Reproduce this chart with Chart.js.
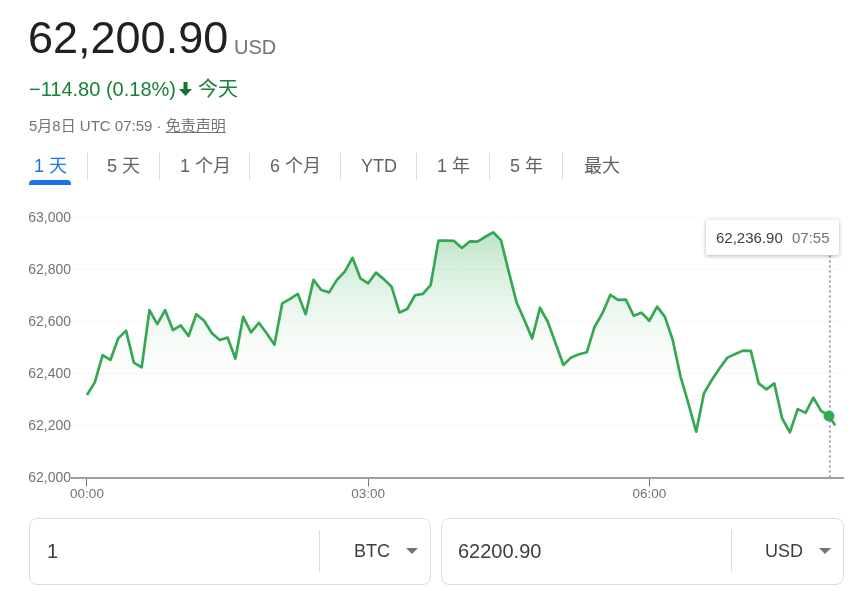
<!DOCTYPE html>
<html><head><meta charset="utf-8">
<script src="https://cdn.jsdelivr.net/npm/chart.js@4/dist/chart.umd.min.js"></script>
<style>
html,body{margin:0;padding:0;background:#fff;width:865px;height:591px;overflow:hidden}
body{font-family:"Liberation Sans","Noto Sans CJK SC",sans-serif;position:relative}
#c{position:absolute;left:0;top:0}
.t{position:absolute;white-space:nowrap;line-height:1}
.sep{position:absolute;top:153px;height:27px;width:1px;background:#dadce0}
.tab{position:absolute;top:157px;font-size:18px;color:#5f6368;white-space:nowrap;line-height:1}
.box{position:absolute;top:518px;height:65px;border:1px solid #dadce0;border-radius:8px;box-sizing:content-box}
.div{position:absolute;top:530px;height:42px;width:1px;background:#dadce0}
.tri{position:absolute;top:548px;width:0;height:0;border-left:6px solid transparent;border-right:6px solid transparent;border-top:6px solid #70757a}
</style></head><body>
<canvas id="c" width="865" height="591"></canvas>
<div class="t" style="left:28px;top:15px;font-size:45px;color:#202124">62,200.90</div>
<div class="t" style="left:234px;top:37px;font-size:20px;color:#70757a">USD</div>
<div class="t" style="left:29px;top:79px;font-size:20px;color:#188038">−114.80 (0.18%)</div>
<svg style="position:absolute;left:178px;top:81px" width="15" height="16" viewBox="0 0 15 16"><path d="M5.500 1h4v7h4.500L7.500 15 1 8h4.500z" fill="#137333"/></svg>
<div class="t" style="left:198px;top:79px;font-size:20px;color:#188038">今天</div>
<div class="t" style="left:29px;top:118px;font-size:15px;color:#70757a">5月8日 UTC 07:59 · <span style="text-decoration:underline">免责声明</span></div>
<div class="tab" style="left:34px;color:#1a73e8">1 天</div>
<div style="position:absolute;left:29px;top:180px;width:42px;height:5px;background:#1a73e8;border-radius:4px 4px 0 0"></div>
<div class="sep" style="left:87px"></div>
<div class="tab" style="left:107px">5 天</div>
<div class="sep" style="left:159px"></div>
<div class="tab" style="left:180px">1 个月</div>
<div class="sep" style="left:249px"></div>
<div class="tab" style="left:270px">6 个月</div>
<div class="sep" style="left:340px"></div>
<div class="tab" style="left:361px">YTD</div>
<div class="sep" style="left:416px"></div>
<div class="tab" style="left:437px">1 年</div>
<div class="sep" style="left:489px"></div>
<div class="tab" style="left:510px">5 年</div>
<div class="sep" style="left:562px"></div>
<div class="tab" style="left:584px">最大</div>
<div style="position:absolute;left:706px;top:220px;width:133px;height:35px;background:#fff;border-radius:2px;box-shadow:0 1px 4px rgba(0,0,0,.3)"></div>
<div class="t" style="left:716px;top:230px;font-size:15px;color:#3c4043">62,236.90</div>
<div class="t" style="left:792px;top:230px;font-size:15px;color:#70757a">07:55</div>
<div class="box" style="left:29px;width:400px"></div>
<div class="div" style="left:319px"></div>
<div class="t" style="left:47px;top:541px;font-size:20px;color:#3c4043">1</div>
<div class="t" style="left:354px;top:542px;font-size:18px;color:#3c4043">BTC</div>
<div class="tri" style="left:406px"></div>
<div class="box" style="left:441px;width:401px"></div>
<div class="div" style="left:731px"></div>
<div class="t" style="left:458px;top:541px;font-size:20px;color:#3c4043">62200.90</div>
<div class="t" style="left:765px;top:542px;font-size:18px;color:#3c4043">USD</div>
<div class="tri" style="left:819px"></div>
<script>
const minutes=[0,5,10,15,20,25,30,35,40,45,50,55,60,65,70,75,80,85,90,95,100,105,110,115,120,125,130,135,140,145,150,155,160,165,170,175,180,185,190,195,200,205,210,215,220,225,230,235,240,245,250,255,260,265,270,275,280,285,290,295,300,305,310,315,320,325,330,335,340,345,350,355,360,365,370,375,380,385,390,395,400,405,410,415,420,425,430,435,440,445,450,455,460,465,470,475,479];
const prices=[62317,62366,62471,62452,62535,62565,62442,62424,62644,62590,62644,62567,62585,62544,62628,62603,62555,62529,62538,62458,62618,62558,62595,62555,62511,62670,62687,62706,62628,62760,62721,62712,62760,62792,62845,62766,62747,62788,62763,62734,62635,62648,62701,62706,62740,62911,62911,62910,62883,62908,62907,62926,62943,62913,62792,62674,62606,62535,62653,62599,62516,62433,62462,62474,62482,62580,62632,62702,62683,62684,62622,62634,62603,62657,62618,62529,62388,62285,62176,62324,62375,62420,62461,62475,62488,62487,62362,62339,62362,62228,62174,62263,62249,62307,62256,62236.9,62200.9];
const yTicks=[62000,62200,62400,62600,62800,63000];
const xTicks=[0,180,360];
const xTickLabels=["00:00","03:00","06:00"];
const prevClose=62315.7;
const hoverMinute=475, hoverPrice=62236.9, cursorMinute=475.6, cursorTop=62856;
const GREEN='#34a853';
new Chart(document.getElementById('c'),{
 type:'line',
 data:{datasets:[
  {data:[{x:hoverMinute,y:hoverPrice}],order:0,pointRadius:5.500,pointBackgroundColor:GREEN,pointBorderWidth:0,showLine:false},
  {data:[{x:cursorMinute,y:62000},{x:cursorMinute,y:cursorTop}],order:2,borderColor:'#9aa0a6',borderWidth:2,borderDash:[2,3],pointRadius:0,fill:false},
  {data:minutes.map((m,i)=>({x:m,y:prices[i]})),order:1,borderColor:GREEN,borderWidth:2.700,pointRadius:0,tension:0,borderJoinStyle:'round',
   fill:{target:{value:prevClose},below:'rgba(0,0,0,0)'},
   backgroundColor:(ctx)=>{
     const ch=ctx.chart; if(!ch.scales||!ch.scales.y||!ch.chartArea) return 'rgba(52,168,83,.1)';
     const y=ch.scales.y;
     const g=ch.ctx.createLinearGradient(0,y.getPixelForValue(62945),0,y.getPixelForValue(62350));
     g.addColorStop(0,'rgba(52,168,83,0.33)');
     g.addColorStop(0.2,'rgba(52,168,83,0.207)');
     g.addColorStop(0.4,'rgba(52,168,83,0.128)');
     g.addColorStop(0.57,'rgba(52,168,83,0.074)');
     g.addColorStop(0.77,'rgba(52,168,83,0.03)');
     g.addColorStop(1,'rgba(52,168,83,0)');
     return g;
   }}
 ]},
 options:{
  responsive:false,devicePixelRatio:1,animation:false,
  layout:{padding:{top:217.5,right:22,left:0,bottom:0}},
  plugins:{legend:{display:false},tooltip:{enabled:false}},
  scales:{
   x:{type:'linear',min:-9.6,max:484,
    afterBuildTicks:s=>{s.ticks=xTicks.map(v=>({value:v}));},
    afterFit:s=>{s.height=113.5;},
    border:{color:'#9aa0a6',width:2},
    grid:{drawOnChartArea:false,drawTicks:true,tickLength:9,tickColor:'#70757a',tickWidth:1},
    ticks:{padding:0,maxRotation:0,autoSkip:false,color:'#70757a',font:{family:'"Liberation Sans"',size:13.5},
     callback:v=>xTickLabels[xTicks.indexOf(v)]}
   },
   y:{min:62000,max:63000,
    afterBuildTicks:s=>{s.ticks=yTicks.map(v=>({value:v}));},
    afterFit:s=>{s.width=72;},
    border:{display:false},
    grid:{color:'#f7f7f7',lineWidth:1,drawTicks:false},
    ticks:{padding:1,labelOffset:1,color:'#70757a',font:{family:'"Liberation Sans"',size:14},callback:v=>v.toLocaleString('en-US')}
   }
  }
 }
});
</script>
</body></html>
